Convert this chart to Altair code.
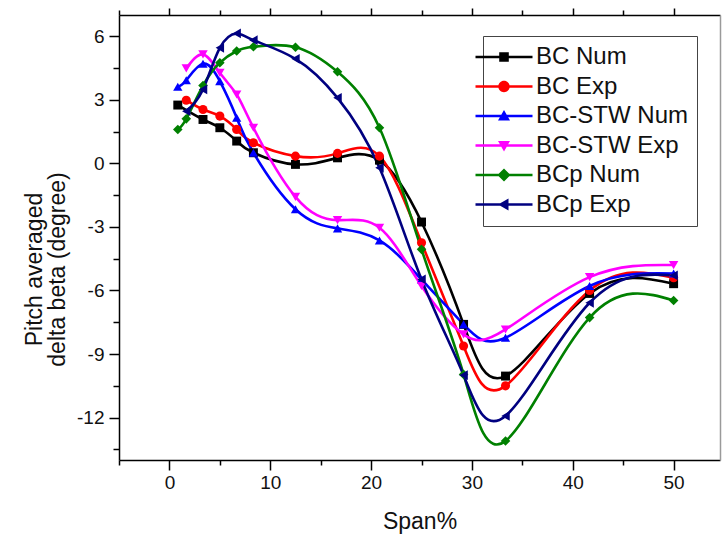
import altair as alt
import pandas as pd

series_names = ["BC Num", "BC Exp", "BC-STW Num", "BC-STW Exp", "BCp Num", "BCp Exp"]
series_colors = ["#000000", "#ff0000", "#0000ff", "#ff00ff", "#008000", "#000080"]
series_shapes = ["square", "circle", "triangle-up", "triangle-down", "diamond", "triangle-left"]
series_sizes = [80, 95, 110, 110, 110, 110]

bc_num_x = [0.83, 3.33, 5.0, 6.67, 8.33, 12.5, 16.67, 20.83, 25.0, 29.17, 33.33, 41.67, 50.0]
bc_num_y = [2.75, 2.07, 1.68, 1.05, 0.5, -0.05, 0.26, 0.15, -2.77, -7.6, -10.04, -6.14, -5.68]

bc_exp_x = [1.67, 3.33, 5.0, 6.67, 8.33, 12.5, 16.67, 20.83, 25.0, 29.17, 33.33, 41.67, 50.0]
bc_exp_y = [2.98, 2.54, 2.23, 1.6, 0.97, 0.34, 0.47, 0.34, -3.75, -8.62, -10.5, -6.0, -5.4]

stw_num_x = [0.83, 1.67, 3.33, 5.0, 6.67, 8.33, 12.5, 16.67, 20.83, 25.0, 29.17, 33.33, 41.67, 50.0]
stw_num_y = [3.61, 3.92, 4.7, 3.88, 2.15, 0.5, -2.17, -3.07, -3.64, -5.48, -7.6, -8.23, -5.79, -5.2]

stw_exp_x = [1.67, 3.33, 5.0, 6.67, 8.33, 12.5, 16.67, 20.83, 25.0, 29.17, 33.33, 41.67, 50.0]
stw_exp_y = [4.48, 5.14, 4.27, 3.25, 1.68, -1.58, -2.68, -3.04, -5.79, -8.07, -7.84, -5.37, -4.8]

bcp_num_x = [0.83, 1.67, 3.33, 5.0, 6.67, 8.33, 12.5, 16.67, 20.83, 25.0, 29.17, 33.33, 41.67, 50.0]
bcp_num_y = [1.6, 2.1, 3.67, 4.75, 5.3, 5.5, 5.48, 4.32, 1.68, -4.06, -9.96, -13.1, -7.28, -6.47]

bcp_exp_x = [1.67, 3.33, 5.0, 6.67, 8.33, 12.5, 16.67, 20.83, 25.0, 29.17, 33.33, 41.67, 50.0]
bcp_exp_y = [2.46, 3.49, 5.45, 6.13, 5.81, 4.93, 3.09, -0.21, -5.48, -10.0, -11.92, -6.58, -5.29]

x_ticks = [-5, 0, 5, 10, 15, 20, 25, 30, 35, 40, 45, 50]
y_ticks = [-13.5, -12, -10.5, -9, -7.5, -6, -4.5, -3, -1.5, 0, 1.5, 3, 4.5, 6]

all_x = [bc_num_x, bc_exp_x, stw_num_x, stw_exp_x, bcp_num_x, bcp_exp_x]
all_y = [bc_num_y, bc_exp_y, stw_num_y, stw_exp_y, bcp_num_y, bcp_exp_y]

rows = []
for name, xs, ys in zip(series_names, all_x, all_y):
    for xv, yv in zip(xs, ys):
        rows.append({"series": name, "span": xv, "beta": yv})
df = pd.DataFrame(rows)

LINE = "M-4.75,-0.21H4.75V0.21H-4.75Z"
legend_paths = [
    LINE + " M-0.8,-0.8H0.8V0.8H-0.8Z",
    LINE + " M-0.95,0A0.95,0.95,0,1,1,0.95,0A0.95,0.95,0,1,1,-0.95,0Z",
    LINE + " M0,-1L1,0.75H-1Z",
    LINE + " M-1,-0.75H1L0,1Z",
    LINE + " M0,-1.1L1.1,0L0,1.1L-1.1,0Z",
    LINE + " M-1,0L0.75,-1V1Z",
]

FONT = "Liberation Sans"
TXT = "#111111"

x_scale = alt.Scale(domain=[-5, 54.6], nice=False, zero=False)
y_scale = alt.Scale(domain=[-14, 7], nice=False, zero=False)
color_scale = alt.Scale(domain=series_names, range=series_colors)

common_axis = dict(grid=False, domainColor="black", domainWidth=1.5,
                   tickColor="black", tickWidth=1.5, labelFont=FONT,
                   labelColor=TXT, titleFont=FONT, titleColor=TXT,
                   titleFontWeight="normal", labelOverlap=False, labelFlush=False)

x_axis_bottom = alt.Axis(
    values=x_ticks,
    tickSize={"condition": {"test": "datum.value % 10 === 0", "value": 10}, "value": 5},
    labelExpr="datum.value % 10 === 0 ? '' + datum.value : ''",
    labelFontSize=19, labelPadding=3,
    title="Span%", titleFontSize=23, titleY=68, titleBaseline="alphabetic",
    **common_axis)

y_axis_left = alt.Axis(
    values=y_ticks,
    tickSize={"condition": {"test": "datum.value % 3 === 0", "value": 10}, "value": 6},
    labelExpr="datum.value % 3 === 0 ? '' + datum.value : ''",
    labelFontSize=19, labelPadding=5,
    title=["Pitch averaged", "delta beta (degree)"], titleFontSize=23,
    titleX=-85, titleY=254, titleAngle=270, titleAlign="center",
    titleBaseline="middle", titleLineHeight=23,
    **common_axis)

x_axis_top = alt.Axis(
    orient="top", values=x_ticks,
    tickSize={"condition": {"test": "datum.value % 10 === 0", "value": 7}, "value": 5},
    labels=False, title=None, **common_axis)

y_axis_right = alt.Axis(
    orient="right", ticks=False, labels=False, title=None,
    grid=False, domainColor="#9a9a9a", domainWidth=1.5)

legend_opts = dict(orient="none", legendX=364, legendY=21, title=None,
                   labelFont=FONT, labelFontSize=24, labelColor=TXT,
                   symbolSize=144, labelOffset=20, rowPadding=5.5,
                   padding=9, strokeColor="#444444", fillColor="white",
                   symbolStrokeWidth=0)

base = alt.Chart(df)

lines = base.mark_line(interpolate="natural", strokeWidth=2.6).encode(
    x=alt.X("span:Q", scale=x_scale, axis=x_axis_bottom),
    y=alt.Y("beta:Q", scale=y_scale, axis=y_axis_left),
    color=alt.Color("series:N", scale=color_scale, legend=None),
    detail="series:N",
)

points = base.mark_point(filled=True, opacity=1).encode(
    x=alt.X("span:Q", scale=x_scale, axis=x_axis_top),
    y=alt.Y("beta:Q", scale=y_scale, axis=y_axis_right),
    color=alt.Color("series:N", scale=color_scale, legend=None),
    shape=alt.Shape("series:N", scale=alt.Scale(domain=series_names, range=series_shapes), legend=None),
    size=alt.Size("series:N", scale=alt.Scale(domain=series_names, range=series_sizes), legend=None),
)

legend_layer = base.transform_filter("false").mark_point(filled=True, opacity=1).encode(
    color=alt.Color("series:N", scale=color_scale, legend=alt.Legend(**legend_opts)),
    shape=alt.Shape("series:N", scale=alt.Scale(domain=series_names, range=legend_paths),
                    legend=alt.Legend(**legend_opts)),
)

chart = alt.layer(lines, points, legend_layer).resolve_scale(
    color="independent", shape="independent"
).resolve_axis(
    x="independent", y="independent"
).properties(
    width=601, height=445,
    autosize=alt.AutoSizeParams(type="none"),
    padding={"left": 119, "top": 15, "right": 2, "bottom": 79},
    background="white",
).configure_view(stroke=None)

chart.save("out.html", embed_options={"renderer": "svg", "actions": False})
